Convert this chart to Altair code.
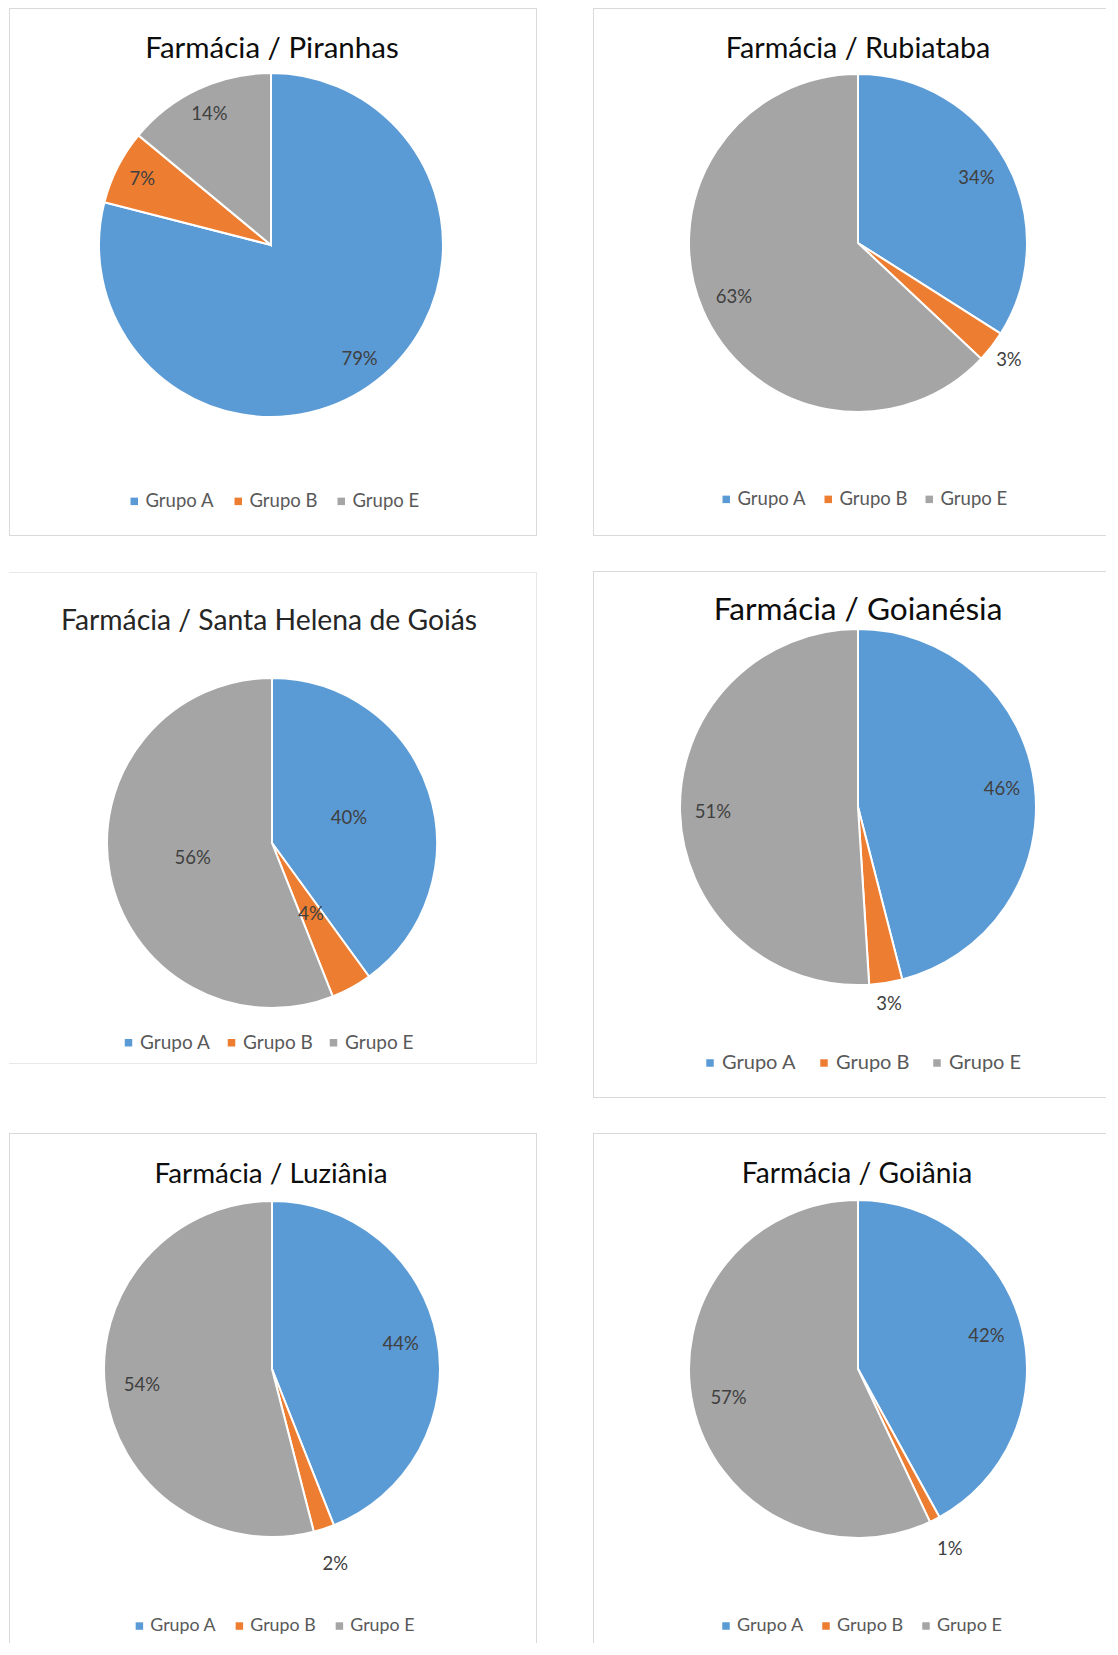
import altair as alt
import pandas as pd

prefix = "Farmácia"
cities = ["Piranhas", "Rubiataba", "Santa Helena de Goiás", "Goianésia", "Luziânia", "Goiânia"]
groups = ["Grupo A", "Grupo B", "Grupo E"]
grupo_a = [79, 34, 40, 46, 44, 42]
grupo_b = [7, 3, 4, 3, 2, 1]
grupo_e = [14, 63, 56, 51, 54, 57]

colors = ["#5B9BD5", "#ED7D31", "#A5A5A5"]
FONT = "Lato"

# panel layout (panel-local pixels) - styling/positions only
layout = [
    dict(w=528, h=528, cx=262, cy=237, r=172, tx=263, ty=41, ts=29.5, tc="#0D0D0D",
         lx=116, ly=484, lfs=18.5, cp=14, inner=0.84, outer=22, thr=5, edges="tlrb", bcol="#D9D9D9", top=0.5),
    dict(w=513, h=528, cx=265, cy=235, r=169, tx=265, ty=41, ts=28.7, tc="#0D0D0D",
         lx=124, ly=482, lfs=18.5, cp=12, inner=0.80, outer=22, thr=5, edges="tlb", bcol="#D9D9D9", top=0.5),
    dict(w=528, h=493, cx=263, cy=272, r=165, tx=260, ty=51, ts=28.3, tc="#262626",
         lx=110, ly=462, lfs=19, cp=11, inner=0.49, outer=20, thr=0, edges="trb", bcol="#E8E8E8", top=1.5),
    dict(w=513, h=527, cx=265, cy=236, r=178, tx=265, ty=40, ts=31.6, tc="#0D0D0D",
         lx=107, ly=482, lfs=20, cp=17, inner=0.815, outer=21, thr=5, edges="tlb", bcol="#D9D9D9", top=0.5),
    dict(w=528, h=510, cx=263, cy=236, r=168, tx=262, ty=42, ts=27.8, tc="#0D0D0D",
         lx=121.5, ly=484, lfs=17.8, cp=14, inner=0.78, outer=37, thr=5, edges="tlr", bcol="#D9D9D9", top=0.5),
    dict(w=513, h=510, cx=265, cy=236, r=169, tx=264, ty=42, ts=28.2, tc="#0D0D0D",
         lx=124, ly=484, lfs=18, cp=13, inner=0.785, outer=33, thr=5, edges="tl", bcol="#D9D9D9", top=0.5),
]


def panel(i):
    L = layout[i]
    df = pd.DataFrame({
        "grupo": groups,
        "pct": [grupo_a[i], grupo_b[i], grupo_e[i]],
        "ord": [0, 1, 2],
    })
    df["label"] = df["pct"].astype(str) + "%"

    base = alt.Chart(df).encode(
        theta=alt.Theta("pct:Q", stack=True),
        order=alt.Order("ord:Q"),
        x=alt.value(L["cx"]),
        y=alt.value(L["cy"]),
    )
    arc = base.mark_arc(outerRadius=L["r"], stroke="white", strokeWidth=2).encode(
        color=alt.Color(
            "grupo:N",
            scale=alt.Scale(domain=groups, range=colors),
            legend=alt.Legend(
                orient="none", legendX=L["lx"], legendY=L["ly"], direction="horizontal",
                columns=3, title=None, symbolType="square", symbolSize=56,
                symbolStrokeWidth=0, labelFont=FONT, labelFontSize=L["lfs"],
                labelColor="#595959", columnPadding=L["cp"], labelOffset=2,
            ),
        )
    )
    inside = base.mark_text(
        radius=L["r"] * L["inner"], font=FONT, fontSize=18.5, color="#404040",
        align="center", baseline="middle",
    ).encode(
        detail="grupo:N",
        text="label:N",
        opacity=alt.condition(f"datum.pct >= {L['thr']}", alt.value(1), alt.value(0)),
    )
    outside = base.mark_text(
        radius=L["r"] + L["outer"], font=FONT, fontSize=18.5, color="#404040",
        align="center", baseline="middle",
    ).encode(
        detail="grupo:N",
        text="label:N",
        opacity=alt.condition(f"datum.pct < {L['thr']}", alt.value(1), alt.value(0)),
    )

    tdf = pd.DataFrame({"title": [f"{prefix} / {cities[i]}"]})
    title = alt.Chart(tdf).mark_text(
        font=FONT, fontSize=L["ts"], color=L["tc"], align="center", baseline="middle",
    ).encode(x=alt.value(L["tx"]), y=alt.value(L["ty"]), text="title:N")

    edges = []
    w, h, t = L["w"], L["h"], L["top"]
    rule = alt.Chart(tdf).mark_rule(color=L["bcol"], strokeWidth=1)
    if "t" in L["edges"]:
        edges.append(rule.encode(x=alt.value(0), x2=alt.value(w), y=alt.value(t)))
    if "b" in L["edges"]:
        edges.append(rule.encode(x=alt.value(0), x2=alt.value(w), y=alt.value(h - 0.5)))
    if "l" in L["edges"]:
        edges.append(rule.encode(x=alt.value(0.5), y=alt.value(t), y2=alt.value(h)))
    if "r" in L["edges"]:
        edges.append(rule.encode(x=alt.value(w - 0.5), y=alt.value(t), y2=alt.value(h)))

    return alt.layer(*edges, arc, inside, outside, title).properties(width=w, height=h)


def row(a, b):
    return (
        alt.hconcat(panel(a), panel(b), spacing=54)
        .resolve_scale(color="independent", theta="independent")
        .resolve_legend(color="independent")
    )


chart = (
    alt.vconcat(row(0, 1), row(2, 3), row(4, 5), spacing=34)
    .resolve_scale(color="independent", theta="independent")
    .resolve_legend(color="independent")
    .properties(padding=0, background="white")
    .configure_view(stroke=None)
)

chart.save("out.html", embed_options={"renderer": "svg", "actions": False})
